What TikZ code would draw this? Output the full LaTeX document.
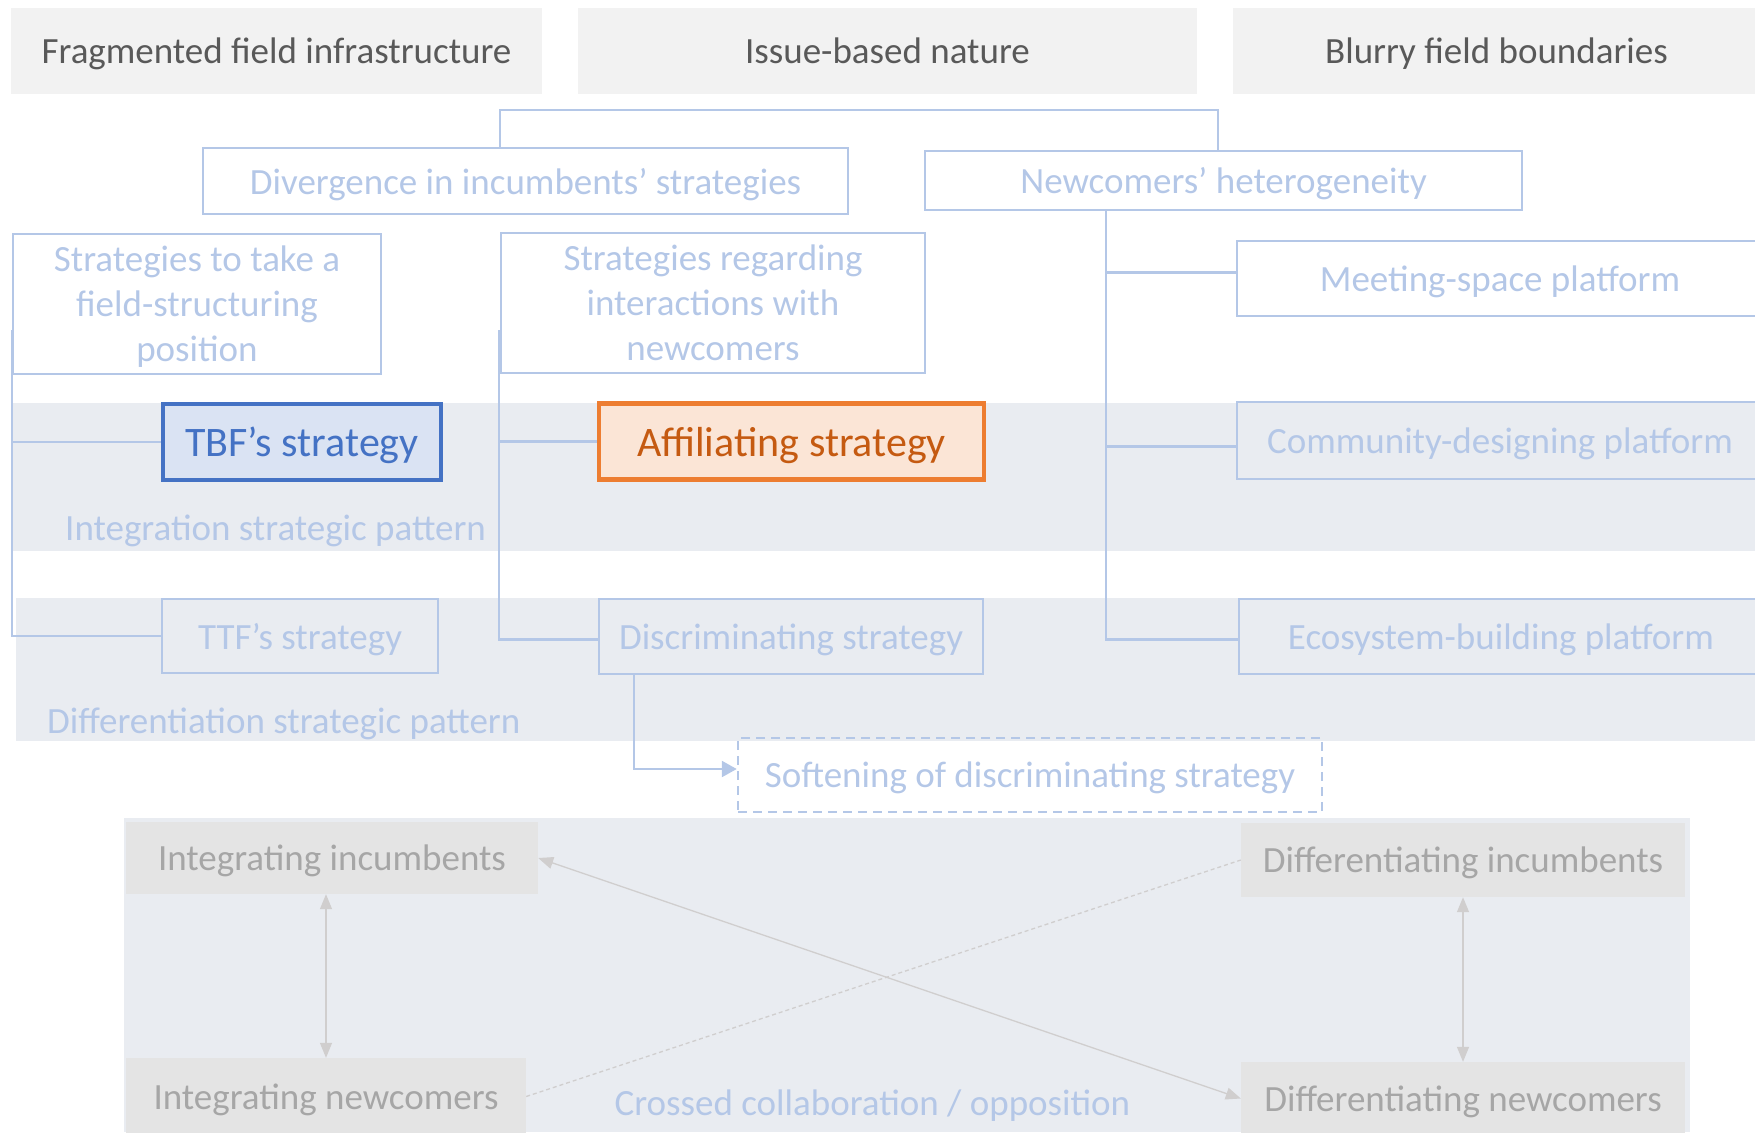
\documentclass[tikz,border=0pt]{standalone}
\usepackage{fontspec}
\setmainfont{Carlito}
\usetikzlibrary{arrows.meta, positioning, calc}
\definecolor{hdrgray}{HTML}{F2F2F2}
\definecolor{hdrtext}{HTML}{595959}
\definecolor{paleblue}{HTML}{B4C7E7}
\definecolor{bandfill}{HTML}{E9ECF1}
\definecolor{boxgray}{HTML}{E4E4E4}
\definecolor{graytext}{HTML}{A6A6A6}
\definecolor{arrowgray}{HTML}{D0CECE}
\definecolor{tbfblue}{HTML}{4472C4}
\definecolor{tbffill}{HTML}{DAE3F3}
\definecolor{affline}{HTML}{ED7D31}
\definecolor{afffill}{HTML}{FBE5D6}
\definecolor{afftext}{HTML}{C55A11}

\begin{document}
\begin{tikzpicture}[
        x=1pt, y=-1pt,
        header/.style={rectangle, fill=hdrgray, text=hdrtext, inner sep=0pt, text depth=0pt, minimum height=86pt, font=\fontsize{37}{44}\selectfont},
        lightbox/.style={rectangle, draw=paleblue, line width=2.5pt, text=paleblue, inner sep=0pt, text depth=0pt, align=center, font=\fontsize{37}{45}\selectfont},
        focus/.style={rectangle, line width=4.5pt, inner sep=0pt, text depth=0pt, minimum height=76pt, font=\fontsize{42}{49}\selectfont},
        actor/.style={rectangle, fill=boxgray, text=graytext, inner sep=0pt, text depth=0pt, font=\fontsize{37}{44}\selectfont},
        bandlabel/.style={text=paleblue, inner sep=0pt, text depth=0pt, font=\fontsize{37}{44}\selectfont},
        link/.style={draw=paleblue, line width=2.5pt},
        grayarrow/.style={draw=arrowgray, line width=1.3pt},
        >={Triangle[length=15pt, width=12pt]}
    ]
        \useasboundingbox (0,0) rectangle (1755,1132);
        \clip (0,0) rectangle (1755,1132);

        \fill[bandfill] (13,403) rectangle (1755,551);
        \fill[bandfill] (16,598) rectangle (1755,741);
        \fill[bandfill] (124,818) rectangle (1690,1132);

        \node[header, minimum width=531pt] (fragm) at (276.5,51) {Fragmented field infrastructure};
        \node[header, minimum width=619pt] (issue) at (887.5,51) {Issue-based nature};
        \node[header, minimum width=527pt] (blurry) at (1496.5,51) {Blurry field boundaries};

        \node[lightbox, minimum width=645pt, minimum height=66pt] (diverg) at (525.5,181) {Divergence in incumbents’ strategies};
        \node[lightbox, minimum width=597pt, minimum height=59pt] (hetero) at (1223.5,180.5) {Newcomers’ heterogeneity};
        \node[lightbox, minimum width=368pt, minimum height=140pt] (fieldpos) at (197,304) {Strategies to take a\\field-structuring\\position};
        \node[lightbox, minimum width=424pt, minimum height=140pt] (interact) at (713,303) {Strategies regarding\\interactions with\\newcomers};
        \node[lightbox, minimum width=526pt, minimum height=75pt] (meeting) at (1500,278.5) {Meeting-space platform};
        \node[lightbox, minimum width=526pt, minimum height=77pt] (community) at (1500,440.5) {Community-designing platform};
        \node[lightbox, minimum width=524pt, minimum height=75pt] (ecosystem) at (1501,636.5) {Ecosystem-building platform};

        \node[focus, draw=tbfblue, fill=tbffill, text=tbfblue, minimum width=278pt] (tbf) at (302,442) {TBF’s strategy};
        \node[focus, draw=affline, fill=afffill, text=afftext, minimum width=385pt] (affil) at (791.5,441.5) {Affiliating strategy};
        \node[lightbox, minimum width=276pt, minimum height=74pt] (ttf) at (300,636) {TTF’s strategy};
        \node[lightbox, minimum width=384pt, minimum height=75pt] (discrim) at (791,636.5) {Discriminating strategy};
        \node[lightbox, dash pattern=on 9pt off 6pt, minimum width=584pt, minimum height=74pt] (soften) at (1030,775) {Softening of discriminating strategy};

        \node[bandlabel, anchor=west] (integ) at (65,528) {Integration strategic pattern};
        \node[bandlabel, anchor=west] (differ) at (47,721) {Differentiation strategic pattern};

        \coordinate (brl) at (500,110);
        \coordinate (brr) at (1218,110);
        \draw[link] (diverg.north -| brl) -- (brl) -- (brr) -- (hetero.north -| brr);

        \coordinate (htrunk) at (1106,0);
        \draw[link] (hetero.south -| htrunk) |- ([yshift=-3pt]ecosystem.west);
        \draw[link] ([yshift=6pt]htrunk |- meeting.west) -- ([yshift=6pt]meeting.west);
        \draw[link] ([yshift=-6pt]htrunk |- community.west) -- ([yshift=-6pt]community.west);

        \coordinate (ltrunk) at (12,330);
        \draw[link] (ltrunk) |- (ttf.west);
        \draw[link] (ltrunk |- tbf.west) -- (tbf.west);

        \coordinate (mtrunk) at (499,330);
        \draw[link] (mtrunk) |- ([yshift=-3pt]discrim.west);
        \draw[link] (mtrunk |- affil.west) -- (affil.west);

        \coordinate (softx) at (634,0);
        \draw[link, -{Triangle[length=15pt, width=16pt]}] (discrim.south -| softx) |- ([yshift=6pt]soften.west);

        \node[actor, minimum width=412pt, minimum height=72pt] (intinc) at (332,858) {Integrating incumbents};
        \node[actor, minimum width=400pt, minimum height=77pt] (intnew) at (326,1096.5) {Integrating newcomers};
        \node[actor, minimum width=444pt, minimum height=74pt] (difinc) at (1463,860) {Differentiating incumbents};
        \node[actor, minimum width=444pt, minimum height=73pt] (difnew) at (1463,1098.5) {Differentiating newcomers};
        \node[bandlabel] (crossed) at (872.5,1102.5) {Crossed collaboration / opposition};

        \draw[grayarrow, <->] (intnew.north |- intinc.south) -- (intnew.north);
        \draw[grayarrow, <->] (difinc.south) -- (difnew.north);
        \draw[grayarrow, <->] (intinc.east) -- (difnew.west);
        \draw[grayarrow, dash pattern=on 4pt off 3pt] (intnew.east) -- (difinc.west);
    \end{tikzpicture}
\end{document}
